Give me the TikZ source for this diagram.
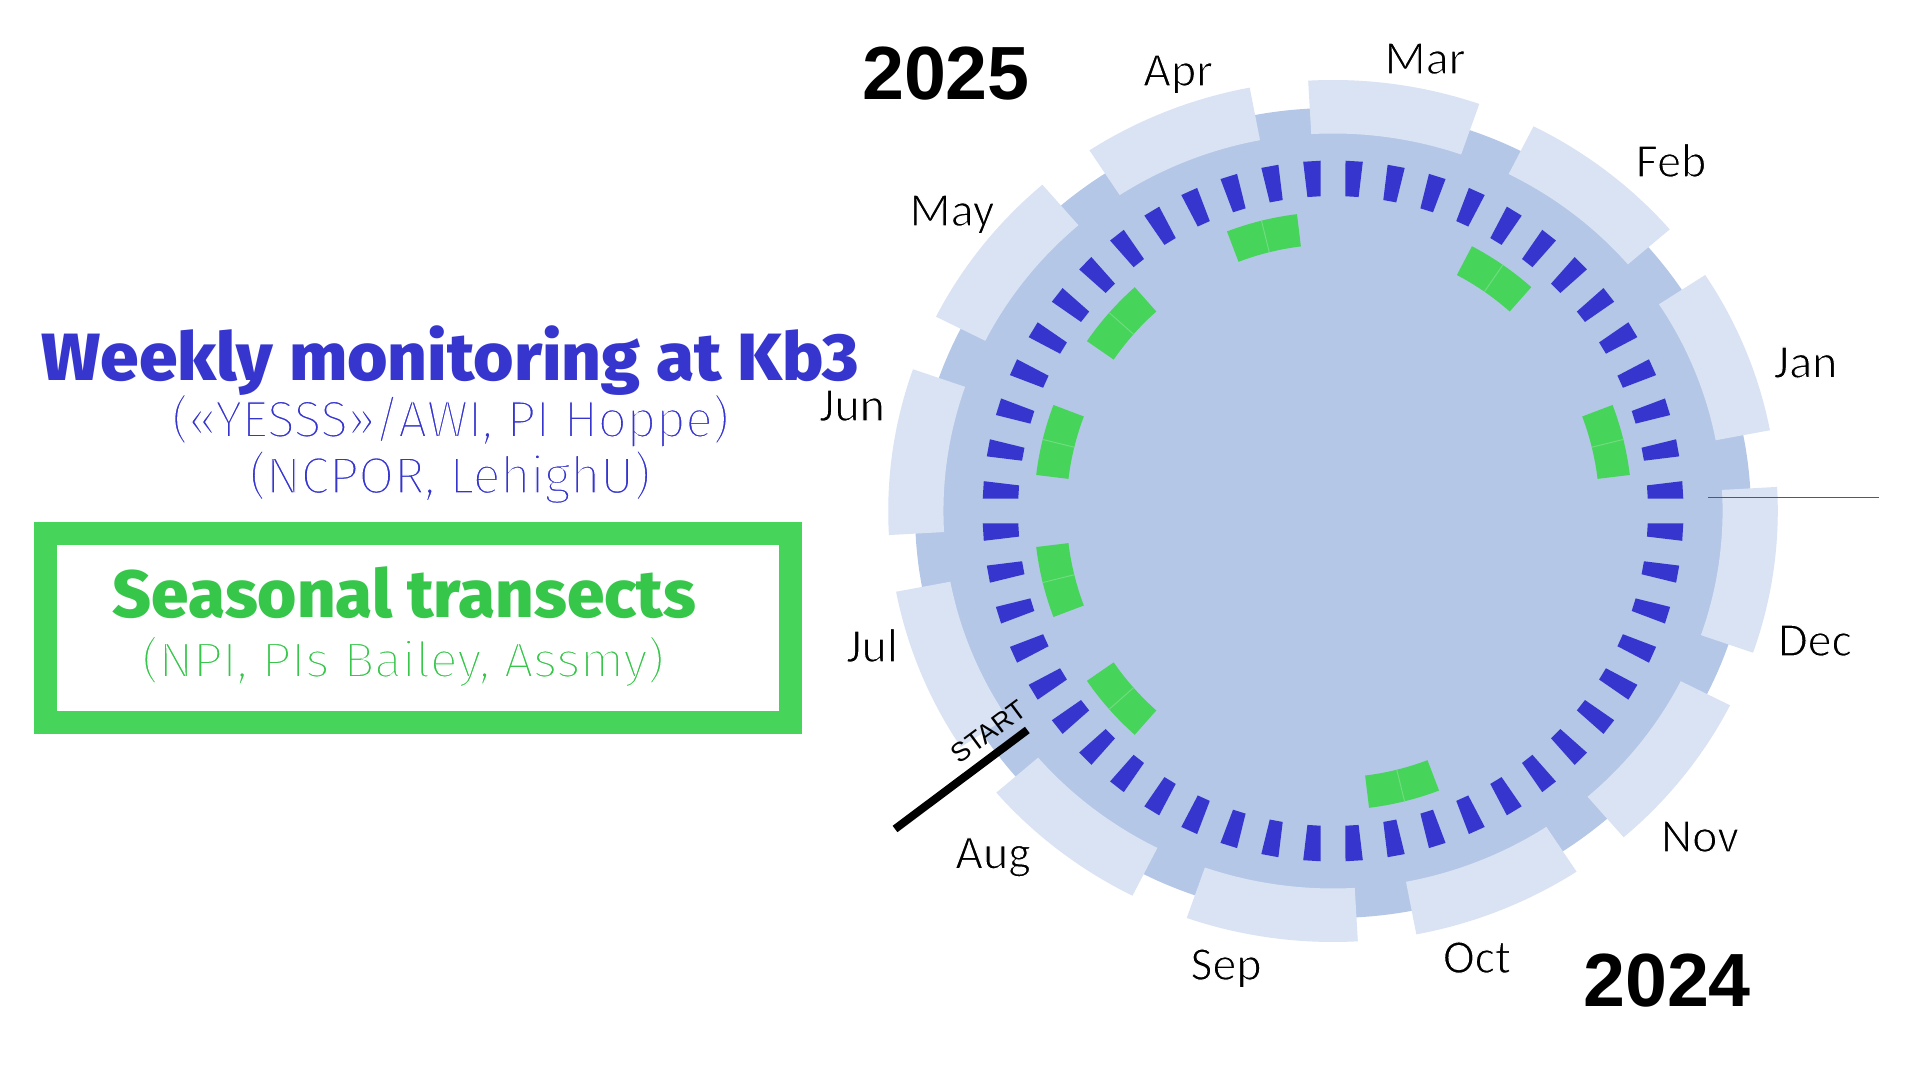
\documentclass[tikz,border=0pt]{standalone}
\usepackage{fontspec}
\usepackage{graphicx}
\setmainfont{Carlito}
\newfontfamily\yearfont{Liberation Sans}
\IfFontExistsTF{Fira Sans ExtraBold}{\newfontfamily\titlefont{Fira Sans ExtraBold}[BoldFont={Fira Sans ExtraBold}]}{%
  \newfontfamily\titlefont{Fira Sans}}
\IfFontExistsTF{Fira Sans Light}{\newfontfamily\subfont{Fira Sans Light}}{%
  \IfFontExistsTF{FiraSans-Light.otf}{\newfontfamily\subfont{FiraSans-Light.otf}}{%
    \IfFontExistsTF{Lato Light}{\newfontfamily\subfont{Lato Light}}{%
      \IfFontExistsTF{Open Sans Light}{\newfontfamily\subfont{Open Sans Light}}{%
        \newfontfamily\subfont{Fira Sans}}}}}
% thin the glyphs by stroking their outlines in white (text stays real text)
\newcommand\thintext[2]{\special{pdf:literal direct 1 1 1 RG #1 w 2 Tr}#2\special{pdf:literal direct 0 Tr}}
\definecolor{lightbox}{HTML}{DAE3F3}
\definecolor{medring}{HTML}{B4C7E7}
\definecolor{weekblue}{HTML}{3636CF}
\definecolor{greenfill}{HTML}{47D45B}
\definecolor{greentext}{HTML}{36C64A}
\definecolor{seamgreen}{HTML}{6FDD7E}
\tikzset{
  monthlabel/.style={font=\fontsize{24}{24}\selectfont, text=black, inner sep=0pt, anchor=base},
  yearlabel/.style={font=\yearfont\bfseries\fontsize{37.7}{38}\selectfont, text=black, inner sep=0pt, anchor=base},
  bigblue/.style={font=\titlefont\bfseries\fontsize{33.4}{34}\selectfont, text=weekblue, inner sep=0pt, anchor=base},
  subblue/.style={font=\subfont\fontsize{25.4}{26}\selectfont, text=weekblue, inner sep=0pt, anchor=base},
  biggreen/.style={font=\titlefont\bfseries\fontsize{33.4}{34}\selectfont, text=greentext, inner sep=0pt, anchor=base},
  subgreen/.style={font=\subfont\fontsize{24.3}{25}\selectfont, text=greentext, inner sep=0pt, anchor=base},
  weekdash/.style={fill=weekblue},
  greenweek/.style={fill=greenfill},
  seam/.style={draw=seamgreen, line width=0.5pt},
  startline/.style={draw=black, line width=4pt},
  startlabel/.style={font=\yearfont\fontsize{13.4}{14}\selectfont, inner sep=0pt, rotate=36.6},
  refline/.style={draw=black!65, line width=0.7pt},
  transectbox/.style={draw=greenfill, line width=11.5pt, inner sep=0pt, minimum width=372.2pt, minimum height=94.25pt}
}
\begin{document}
\begin{tikzpicture}[x=0.5pt,y=0.5pt]
\useasboundingbox (0,0) rectangle (1920,1080);
\fill[white] (0,0) rectangle (1920,1080);

% background disc and month boxes (slightly wider than tall)
\begin{scope}[shift={(1333,569)}, xscale=1.032]
  \fill[medring] (0,-2) circle[radius=405];
  \foreach \m in {0,...,11}{
    \pgfmathsetmacro\bs{82-30*\m-11.2}
    \pgfmathsetmacro\be{82-30*\m+11.2}
    \fill[lightbox] (\bs:377.5) -- (\bs:431) arc[start angle=\bs, end angle=\be, radius=431]
      -- (\be:377.5) arc[start angle=\be, end angle=\bs, radius=377.5] -- cycle;
  }
\end{scope}

% weekly dashes and seasonal transects
\begin{scope}[shift={(1333,569)}]
  \foreach \k in {0,...,51}{
    \pgfmathsetmacro\dc{86.5385-6.92308*\k}
    \pgfmathsetmacro\dpo{\dc+1.42}
    \pgfmathsetmacro\dmo{\dc-1.42}
    \pgfmathsetmacro\dpi{\dc+1.2}
    \pgfmathsetmacro\dmi{\dc-1.2}
    \fill[weekdash] (\dmo:350.5) -- (\dpo:350.5) -- (\dpi:315) -- (\dmi:315) -- cycle;
  }
  \foreach \c in {103.846,55.385,13.846,-76.154,-138.462,-166.154,166.154,138.462}{
    \pgfmathsetmacro\gs{\c-6.923}
    \pgfmathsetmacro\ge{\c+6.923}
    \fill[greenweek] (\gs:266.5) -- (\gs:299) arc[start angle=\gs, end angle=\ge, radius=299]
      -- (\ge:266.5) arc[start angle=\ge, end angle=\gs, radius=266.5] -- cycle;
    \draw[seam] (\c:266.5) -- (\c:299);
  }
\end{scope}

% START marker
\coordinate (startin) at (1027.3,350);
\coordinate (startout) at (895,251);
\draw[startline] (startout) -- (startin);
\node[startlabel] (start) at (988.7,348.2) {START};

% reference line at right
\coordinate (refa) at (1708,582.5);
\coordinate (refb) at (1879,582.5);
\draw[refline] (refa) -- (refb);

% years
\node[yearlabel] (y2025) at (946,980) {2025};
\node[yearlabel] (y2024) at (1667,73) {2024};

% left legend
\node[transectbox] (tbox) at (417.8,451.75) {};
\node[bigblue] (weekly) at (450.5,699) {\resizebox{408.5pt}{\height}{Weekly monitoring at Kb3}};
\node[biggreen] (seasonal) at (404.5,462.3) {\resizebox{291.5pt}{\height}{Seasonal transects}};
\node[subblue] (yesss) at (450.5,643.3) {\resizebox{278.5pt}{\height}{\thintext{0.6}{(«YESSS»/AWI, PI Hoppe)}}};
\node[subblue] (ncpor) at (450,587) {\resizebox{200.5pt}{\height}{\thintext{0.6}{(NCPOR, LehighU)}}};
\node[subgreen] (npi) at (403,403.3) {\resizebox{261pt}{\height}{\thintext{0.6}{(NPI, PIs Bailey, Assmy)}}};

% month labels
\node[monthlabel] (mar) at (1425,1006) {\thintext{0.55}{Mar}};
\node[monthlabel] (apr) at (1178,994) {\thintext{0.55}{Apr}};
\node[monthlabel] (may) at (952,854) {\thintext{0.55}{May}};
\node[monthlabel] (jun) at (852,659) {\thintext{0.55}{Jun}};
\node[monthlabel] (jul) at (872,418) {\thintext{0.55}{Jul}};
\node[monthlabel] (aug) at (993,211.3) {\thintext{0.55}{Aug}};
\node[monthlabel] (sep) at (1226,100) {\thintext{0.55}{Sep}};
\node[monthlabel] (oct) at (1477,107) {\thintext{0.55}{Oct}};
\node[monthlabel] (nov) at (1700,228) {\thintext{0.55}{Nov}};
\node[monthlabel] (dec) at (1815,424) {\thintext{0.55}{Dec}};
\node[monthlabel] (jan) at (1805.5,702.2) {\thintext{0.55}{Jan}};
\node[monthlabel] (feb) at (1671,903) {\thintext{0.55}{Feb}};
\end{tikzpicture}
\end{document}
